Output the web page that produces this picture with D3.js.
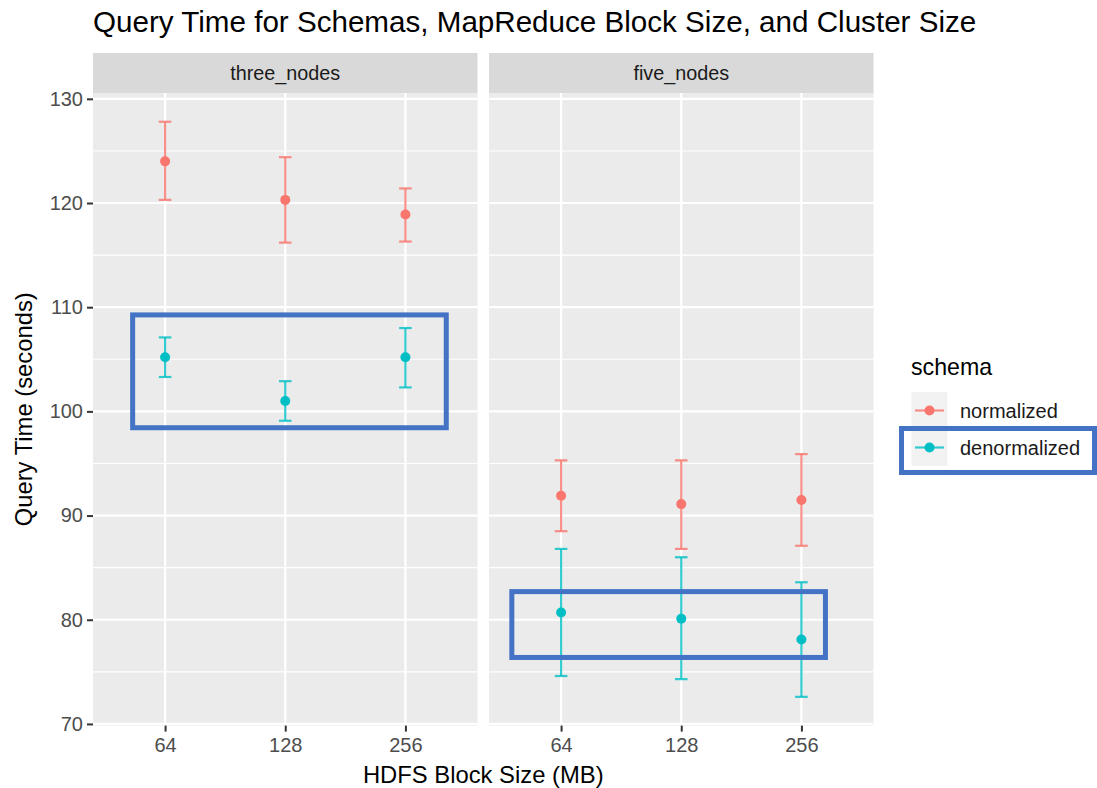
<!DOCTYPE html>
<html>
<head>
<meta charset="utf-8">
<script src="https://cdn.jsdelivr.net/npm/d3@7"></script>
<style>
  body { margin: 0; background: #fff; }
  text { font-family: "Liberation Sans", Arial, sans-serif; }
</style>
</head>
<body>
<div id="chart"></div>
<script>
/******************** Data ********************/
const blockSizes = ["64", "128", "256"];
const clusters = ["three_nodes", "five_nodes"];
const schemas = ["normalized", "denormalized"];
const schemaColors = ["#F8766D", "#00BFC4"];

// mean / lower / upper per cluster, per schema, per block size
const threeNormMean = [124.0, 120.3, 118.9];
const threeNormLow  = [120.3, 116.2, 116.3];
const threeNormHigh = [127.8, 124.4, 121.4];

const threeDenormMean = [105.2, 101.0, 105.2];
const threeDenormLow  = [103.3, 99.1, 102.3];
const threeDenormHigh = [107.1, 102.9, 108.0];

const fiveNormMean = [91.9, 91.1, 91.5];
const fiveNormLow  = [88.5, 86.8, 87.1];
const fiveNormHigh = [95.3, 95.3, 95.9];

const fiveDenormMean = [80.7, 80.1, 78.1];
const fiveDenormLow  = [74.6, 74.3, 72.6];
const fiveDenormHigh = [86.8, 86.0, 83.6];

// highlight boxes drawn on the panels (category index / value units)
const boxPanel = ["three_nodes", "five_nodes"];
const boxX0 = [-0.27, -0.41];
const boxX1 = [2.34, 2.2];
const boxY0 = [98.43, 76.38];
const boxY1 = [109.26, 82.7];

const yTicks = [70, 80, 90, 100, 110, 120, 130];
const yMinor = [75, 85, 95, 105, 115, 125];

/******************** Build rows ********************/
const series = {
  three_nodes: {
    normalized: [threeNormMean, threeNormLow, threeNormHigh],
    denormalized: [threeDenormMean, threeDenormLow, threeDenormHigh]
  },
  five_nodes: {
    normalized: [fiveNormMean, fiveNormLow, fiveNormHigh],
    denormalized: [fiveDenormMean, fiveDenormLow, fiveDenormHigh]
  }
};
const rows = [];
clusters.forEach(c => schemas.forEach(s => blockSizes.forEach((b, i) => {
  const [m, lo, hi] = series[c][s];
  rows.push({ cluster: c, schema: s, block: b, mean: m[i], low: lo[i], high: hi[i] });
})));

/******************** Layout ********************/
const svgWidth = 1097;
const svgHeight = 788;
const panelTop = 93;
const panelBottom = 725.6;
const stripHeight = 40;
const panelLeft = [93, 489];
const panelWidth = 384.5;

const svg = d3.select("#chart").append("svg")
  .attr("width", svgWidth)
  .attr("height", svgHeight);

const lo = d3.min(rows, d => d.low), hi = d3.max(rows, d => d.high);
const pad = (hi - lo) * 0.05;
const yScale = d3.scaleLinear()
  .domain([lo - pad, hi + pad])
  .range([panelBottom, panelTop]);

const color = d3.scaleOrdinal().domain(schemas).range(schemaColors);

/******************** Title ********************/
svg.append("text")
  .text("Query Time for Schemas, MapReduce Block Size, and Cluster Size")
  .attr("x", 93)
  .attr("y", 32)
  .attr("font-size", "29.6px")
  .attr("fill", "#000");

/******************** Panels ********************/
clusters.forEach((c, pi) => {
  const x0 = panelLeft[pi];
  const xScale = d3.scalePoint()
    .domain(blockSizes)
    .range([x0, x0 + panelWidth])
    .padding(0.6);
  const step = xScale.step();

  const g = svg.append("g");

  // strip
  g.append("rect")
    .attr("x", x0).attr("y", panelTop - stripHeight)
    .attr("width", panelWidth).attr("height", stripHeight)
    .attr("fill", "#D9D9D9");
  g.append("text")
    .text(c)
    .attr("x", x0 + panelWidth / 2)
    .attr("y", panelTop - stripHeight / 2)
    .attr("dy", "0.35em")
    .attr("text-anchor", "middle")
    .attr("font-size", "19.8px")
    .attr("fill", "#1A1A1A");

  // background
  g.append("rect")
    .attr("x", x0).attr("y", panelTop)
    .attr("width", panelWidth).attr("height", panelBottom - panelTop)
    .attr("fill", "#EBEBEB");

  // grid
  g.selectAll(".minor").data(yMinor).enter().append("line")
    .attr("x1", x0).attr("x2", x0 + panelWidth)
    .attr("y1", d => yScale(d)).attr("y2", d => yScale(d))
    .attr("stroke", "#fff").attr("stroke-width", 1.1);
  g.selectAll(".major").data(yTicks).enter().append("line")
    .attr("x1", x0).attr("x2", x0 + panelWidth)
    .attr("y1", d => yScale(d)).attr("y2", d => yScale(d))
    .attr("stroke", "#fff").attr("stroke-width", 2.2);
  g.selectAll(".vgrid").data(blockSizes).enter().append("line")
    .attr("x1", d => xScale(d)).attr("x2", d => xScale(d))
    .attr("y1", panelTop).attr("y2", panelBottom)
    .attr("stroke", "#fff").attr("stroke-width", 2.2);

  // x axis
  const xAxis = svg.append("g")
    .attr("transform", `translate(0,${panelBottom})`)
    .call(d3.axisBottom(xScale).tickSize(6).tickPadding(6));
  xAxis.select(".domain").remove();
  xAxis.selectAll(".tick line").attr("stroke", "#333").attr("stroke-width", 2);
  xAxis.selectAll(".tick text")
    .attr("font-size", "20px")
    .attr("fill", "#4D4D4D")
    .attr("font-family", "'Liberation Sans', Arial, sans-serif");

  // error bars + points
  const pr = rows.filter(d => d.cluster === c);
  const eb = g.selectAll(".eb").data(pr).enter().append("g")
    .attr("stroke", d => color(d.schema))
    .attr("stroke-width", 2.2)
    .attr("stroke-opacity", 0.8);
  eb.append("line")
    .attr("x1", d => xScale(d.block)).attr("x2", d => xScale(d.block))
    .attr("y1", d => yScale(d.low)).attr("y2", d => yScale(d.high));
  eb.append("line")
    .attr("x1", d => xScale(d.block) - 6.3).attr("x2", d => xScale(d.block) + 6.3)
    .attr("y1", d => yScale(d.low)).attr("y2", d => yScale(d.low));
  eb.append("line")
    .attr("x1", d => xScale(d.block) - 6.3).attr("x2", d => xScale(d.block) + 6.3)
    .attr("y1", d => yScale(d.high)).attr("y2", d => yScale(d.high));
  g.selectAll(".pt").data(pr).enter().append("circle")
    .attr("cx", d => xScale(d.block))
    .attr("cy", d => yScale(d.mean))
    .attr("r", 5)
    .attr("fill", d => color(d.schema));

  // highlight boxes
  boxPanel.forEach((bp, bi) => {
    if (bp !== c) return;
    const bx0 = xScale(blockSizes[0]) + boxX0[bi] * step;
    const bx1 = xScale(blockSizes[0]) + boxX1[bi] * step;
    svg.append("rect")
      .attr("x", bx0).attr("y", yScale(boxY1[bi]))
      .attr("width", bx1 - bx0)
      .attr("height", yScale(boxY0[bi]) - yScale(boxY1[bi]))
      .attr("fill", "none")
      .attr("stroke", "#4472C4")
      .attr("stroke-width", 5);
  });
});

/******************** Y axis ********************/
const yAxis = svg.append("g")
  .attr("transform", `translate(${panelLeft[0]},0)`)
  .call(d3.axisLeft(yScale).tickValues(yTicks).tickSize(6).tickPadding(4));
yAxis.select(".domain").remove();
yAxis.selectAll(".tick line").attr("stroke", "#333").attr("stroke-width", 2);
yAxis.selectAll(".tick text")
  .attr("font-size", "20px")
  .attr("fill", "#4D4D4D")
  .attr("font-family", "'Liberation Sans', Arial, sans-serif");

/******************** Axis titles ********************/
svg.append("text")
  .text("HDFS Block Size (MB)")
  .attr("x", (panelLeft[0] + panelLeft[1] + panelWidth) / 2)
  .attr("y", 783)
  .attr("text-anchor", "middle")
  .attr("font-size", "23.8px");

svg.append("text")
  .text("Query Time (seconds)")
  .attr("transform", "rotate(-90)")
  .attr("x", -(panelTop + panelBottom) / 2)
  .attr("y", 32)
  .attr("text-anchor", "middle")
  .attr("font-size", "23.8px");

/******************** Legend ********************/
const legend = svg.append("g");
legend.append("text")
  .text("schema")
  .attr("x", 911)
  .attr("y", 375)
  .attr("font-size", "23.2px");

schemas.forEach((s, i) => {
  const ky = 392 + i * 37;
  legend.append("rect")
    .attr("x", 911.5).attr("y", ky)
    .attr("width", 36).attr("height", 37)
    .attr("fill", "#F2F2F2");
  legend.append("line")
    .attr("x1", 915).attr("x2", 944)
    .attr("y1", ky + 18.5).attr("y2", ky + 18.5)
    .attr("stroke", color(s)).attr("stroke-width", 2.2).attr("stroke-opacity", 0.8);
  legend.append("circle")
    .attr("cx", 929.5).attr("cy", ky + 18.5).attr("r", 5)
    .attr("fill", color(s));
  legend.append("text")
    .text(s)
    .attr("x", 960)
    .attr("y", ky + 18.5)
    .attr("dy", "0.35em")
    .attr("font-size", "20px")
    .attr("fill", "#1A1A1A");
});

// highlight around the denormalized legend entry
legend.append("rect")
  .attr("x", 901.5).attr("y", 428.5)
  .attr("width", 193).attr("height", 44)
  .attr("fill", "none")
  .attr("stroke", "#4472C4")
  .attr("stroke-width", 5);
</script>
</body>
</html>
